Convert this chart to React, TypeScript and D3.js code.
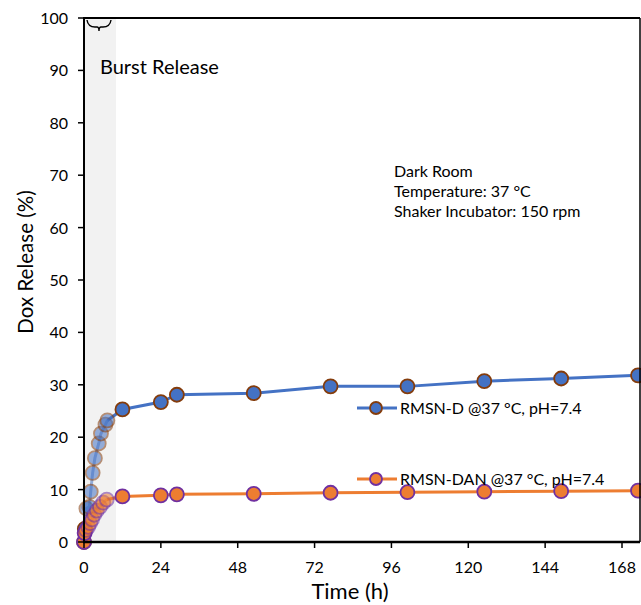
import React from "react";
import * as d3 from "d3";

// release data (time in h, release in %)
const timesD = [0, 0.25, 0.75, 1.7, 2.1, 2.7, 3.4, 4.6, 5.3, 6.7, 7.3, 12, 24, 29, 53, 77, 101, 125, 149, 173];
const valuesD = [0, 2.5, 6.4, 6.7, 9.6, 13.2, 16.0, 18.8, 20.7, 22.4, 23.2, 25.3, 26.7, 28.1, 28.4, 29.7, 29.7, 30.7, 31.2, 31.8];
const timesDAN = [0, 0.2, 0.6, 1.3, 1.9, 2.5, 3.2, 4.0, 5.0, 6.0, 7.1, 12, 24, 29, 53, 77, 101, 125, 149, 173];
const valuesDAN = [0, 1.7, 2.3, 2.9, 3.6, 4.3, 5.2, 6.0, 6.7, 7.5, 8.1, 8.7, 8.9, 9.1, 9.2, 9.4, 9.5, 9.6, 9.7, 9.8];

const xTicks = [0, 24, 48, 72, 96, 120, 144, 168];
const yTicks = [0, 10, 20, 30, 40, 50, 60, 70, 80, 90, 100];
const burstEnd = 10;
const notes = ["Dark Room", "Temperature: 37 \u00b0C", "Shaker Incubator: 150 rpm"];

const series = [
  { name: "RMSN-D @37 \u00b0C, pH=7.4", times: timesD, values: valuesD, color: "#4472C4", edge: "#843C0C", legendY: 408 },
  { name: "RMSN-DAN @37 \u00b0C, pH=7.4", times: timesDAN, values: valuesDAN, color: "#ED7D31", edge: "#7030A0", legendY: 479 },
];

const W = 641;
const H = 605;
const font = "Lato, 'Open Sans', sans-serif";

export default function App() {
  const left = 84, right = 640, top = 18, bottom = 542;
  const x = d3.scaleLinear().domain([0, 168]).range([left, 622]);
  const y = d3.scaleLinear().domain([0, 100]).range([bottom, top]);
  const line = d3.line<[number, number]>().x((d) => x(d[0])).y((d) => y(d[1]));

  return (
    <svg width={W} height={H} style={{ position: "absolute", left: 0, top: 0, background: "#fff" }}>
      <rect x={x(0)} y={top} width={x(burstEnd) - x(0)} height={bottom - top} fill="#F2F2F2" />
      {/* horizontal brace over the burst window */}
      <path d="M87,20 Q88,27 95,27 L97,27 Q99,27 99,31 Q99,27 101,27 L103,27 Q110,27 111,20" fill="none" stroke="#000" strokeWidth={1.4} />
      <text x={100} y={74} fontFamily={font} fontSize={20} fill="#000">Burst Release</text>

      {notes.map((t, i) => (
        <text key={t} x={394} y={177 + i * 20} fontFamily={font} fontSize={16} fill="#000">{t}</text>
      ))}

      {series.map((s) => {
        const pts: [number, number][] = s.times.map((t, i) => [t, s.values[i]]);
        const split = s.times.findIndex((t) => t >= burstEnd) - 1;
        const early = pts.slice(0, split + 1);
        const late = pts.slice(split);
        return (
          <g key={s.name}>
            <path d={line(early) || ""} fill="none" stroke={s.color} strokeWidth={3} opacity={0.55} />
            <path d={line(late) || ""} fill="none" stroke={s.color} strokeWidth={3} />
            {pts.map((p, i) => (
              <circle key={i} cx={x(p[0])} cy={y(p[1])} r={7} fill={s.color} stroke={s.edge} strokeWidth={1.8}
                opacity={i > 1 && p[0] < burstEnd ? 0.55 : 1} />
            ))}
          </g>
        );
      })}

      {/* axes */}
      <line x1={left} x2={right} y1={top} y2={top} stroke="#000" strokeWidth={2} />
      <line x1={right} x2={right} y1={top} y2={bottom} stroke="#000" strokeWidth={1.5} />
      <line x1={left} x2={left} y1={top - 1} y2={bottom + 1} stroke="#000" strokeWidth={2} />
      <line x1={left - 1} x2={right} y1={bottom} y2={bottom} stroke="#000" strokeWidth={2.5} />
      {yTicks.map((t) => (
        <g key={t}>
          <line x1={left - 6} x2={left} y1={y(t)} y2={y(t)} stroke="#000" strokeWidth={1.5} />
          <text x={68} y={y(t) + 6} textAnchor="end" fontFamily={font} fontSize={16} fill="#000">{t}</text>
        </g>
      ))}
      {xTicks.map((t) => (
        <g key={t}>
          <line x1={x(t)} x2={x(t)} y1={bottom} y2={bottom + 6} stroke="#000" strokeWidth={1.5} />
          <text x={x(t)} y={573} textAnchor="middle" fontFamily={font} fontSize={16} fill="#000">{t}</text>
        </g>
      ))}
      <text x={350} y={599} textAnchor="middle" fontFamily={font} fontSize={22} fill="#000">Time (h)</text>
      <text transform="translate(33,262) rotate(-90)" textAnchor="middle" fontFamily={font} fontSize={20.5} fill="#000">Dox Release (%)</text>

      {/* legends */}
      {series.map((s) => (
        <g key={"lg" + s.name}>
          <line x1={357} x2={397} y1={s.legendY} y2={s.legendY} stroke={s.color} strokeWidth={3} />
          <circle cx={376} cy={s.legendY} r={6} fill={s.color} stroke={s.edge} strokeWidth={1.8} />
          <text x={400} y={s.legendY + 6} fontFamily={font} fontSize={16} fill="#000">{s.name}</text>
        </g>
      ))}
    </svg>
  );
}
